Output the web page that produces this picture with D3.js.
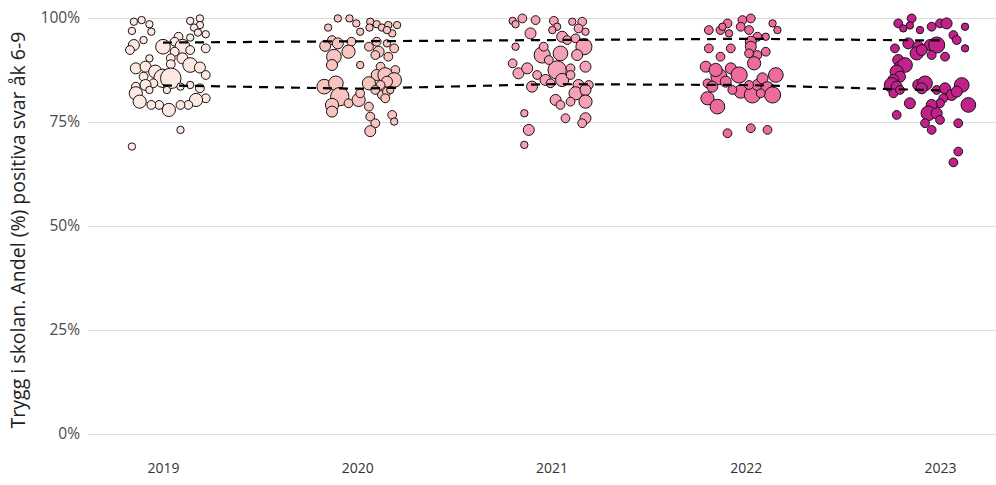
<!DOCTYPE html>
<html>
<head>
<meta charset="utf-8">
<script src="https://cdn.jsdelivr.net/npm/d3@7/dist/d3.min.js"></script>
<style>
  html, body { margin: 0; padding: 0; background: #ffffff; }
  svg { display: block; }
</style>
</head>
<body>
<svg id="chart" width="996" height="485"></svg>
<script>
// ---------------- DATA ----------------
const years = ["2019", "2020", "2021", "2022", "2023"];
const yTicks = [0, 25, 50, 75, 100];
const yTitle = "Trygg i skolan. Andel (%) positiva svar åk 6-9";

// Upper and lower quartile (%) per year (dashed lines)
const upperQuartile = [94.1, 94.4, 94.7, 95.0, 94.6];
const lowerQuartile = [83.8, 83.0, 84.1, 83.9, 82.6];

// Each school: [horizontal jitter (category units), share positive (%), number of answers]
const schools2019 = [
  [-0.15,99.1,45],[-0.11,99.5,45],[-0.07,98.5,45],[-0.16,96.9,45],[-0.06,96.7,45],[-0.10,94.7,45],[-0.15,93.5,100],[-0.17,92.3,64],
  [0.14,99.3,45],[0.19,99.9,45],[0.19,98.3,45],[0.16,97.7,45],[0.18,96.5,45],[0.22,96.1,45],[0.08,95.5,64],[0.14,95.3,45],
  [0.00,93.1,178],[0.06,94.3,64],[0.10,93.1,178],[0.06,91.9,64],[0.14,92.3,64],[0.22,92.7,64],[0.10,90.3,100],[0.04,90.3,64],[0.04,88.9,64],[-0.07,90.3,45],
  [0.14,88.7,178],[0.19,88.1,100],[0.22,86.3,64],[-0.14,87.9,100],[-0.09,88.3,100],[-0.04,87.1,144],[-0.10,85.9,64],[0.00,85.5,278],[0.04,85.5,348],
  [-0.05,84.3,64],[-0.14,83.5,64],[-0.09,83.9,100],[-0.14,81.9,144],[-0.07,82.7,45],[0.02,82.7,45],[0.09,83.5,45],[0.14,83.9,45],[0.19,83.1,64],
  [0.22,80.7,64],[0.17,80.3,144],[0.13,79.1,64],[0.09,79.1,64],[0.03,77.9,144],[-0.02,79.1,64],[-0.06,79.1,64],[-0.12,79.9,144],[0.09,73.1,45],[-0.16,69.1,45]
];
const schools2020 = [
  [-0.10,99.9,45],[-0.04,99.9,45],[-0.005,98.7,45],[0.015,96.7,45],[-0.15,97.7,45],[0.067,99.1,45],[0.063,97.7,45],[0.10,98.5,45],
  [0.127,97.7,45],[0.16,98.3,45],[0.205,98.3,45],[0.18,96.3,45],[0.153,97.1,45],[-0.165,93.3,100],[-0.13,94.7,64],[-0.10,93.9,100],
  [-0.03,94.3,64],[-0.045,91.9,144],[-0.12,90.7,178],[-0.13,88.7,100],[0.06,93.1,64],[0.10,94.3,64],[0.11,91.9,100],[0.093,91.1,64],
  [0.16,90.7,64],[0.19,92.7,64],[0.153,93.9,45],[0.015,88.7,45],[0.12,88.3,64],[0.196,87.5,64],[0.10,86.3,100],[0.144,86.3,178],
  [0.19,85.1,178],[0.153,84.7,100],[0.12,83.9,64],[0.06,84.3,144],[0.093,82.7,64],[0.127,81.5,64],[0.153,82.3,64],[0.17,82.7,45],
  [0.144,80.7,64],[-0.17,83.5,178],[-0.11,84.3,178],[-0.09,81.1,278],[-0.13,79.1,144],[-0.13,77.5,100],[0.007,80.3,144],[-0.045,79.5,64],
  [0.015,81.9,64],[0.06,78.7,64],[0.067,76.3,64],[0.093,74.7,64],[0.067,72.8,100],[0.18,76.7,64],[0.19,75.1,45]
];
const schools2021 = [
  [-0.20,99.3,45],[-0.15,99.9,64],[-0.185,98.5,45],[-0.082,99.5,64],[0.012,99.3,64],[0.029,97.9,45],[0.004,97.1,45],[0.107,99.1,45],
  [0.158,99.1,64],[0.139,97.5,64],[0.175,96.7,45],[-0.108,96.3,100],[-0.185,93.1,45],[0.055,95.5,100],[0.081,94.7,64],[0.124,95.1,64],
  [0.167,93.1,215],[0.046,91.5,178],[-0.048,91.1,215],[0.029,87.5,278],[0.132,91.1,100],[0.175,88.3,100],[0.098,87.9,64],[-0.04,93.1,64],
  [-0.014,89.9,64],[-0.20,89.1,64],[-0.17,86.7,100],[-0.125,87.9,100],[-0.074,86.3,64],[-0.031,85.1,100],[0.055,85.1,144],[0.098,86.3,64],
  [0.139,83.9,100],[0.192,83.9,64],[-0.10,83.5,100],[-0.005,84.3,64],[0.124,81.9,144],[0.175,82.7,100],[0.175,79.9,144],[0.098,79.9,64],
  [0.021,80.3,100],[0.046,79.1,64],[-0.14,77.1,45],[0.072,75.9,64],[0.175,75.9,100],[0.158,74.7,64],[-0.117,73.1,100],[-0.14,69.5,45]
];
const schools2022 = [
  [-0.19,97.1,64],[-0.13,97.1,64],[-0.094,98.7,64],[-0.12,97.9,45],[-0.017,99.5,64],[0.026,99.9,64],[-0.026,97.9,64],[0.017,97.1,64],
  [0.06,95.5,64],[0.103,95.5,45],[0.138,98.7,45],[0.163,97.1,45],[-0.086,96.3,45],[-0.19,92.7,64],[-0.077,92.7,64],[0.026,94.3,100],
  [0.026,93.1,100],[0.06,91.1,64],[0.017,91.5,64],[0.103,91.9,64],[0.043,89.1,144],[-0.13,90.7,64],[-0.206,88.3,100],[-0.138,85.9,215],
  [-0.155,87.5,144],[-0.077,87.9,100],[-0.034,86.3,215],[-0.103,84.7,100],[-0.197,84.3,64],[-0.172,83.5,100],[-0.197,80.7,144],[-0.146,78.7,178],
  [-0.026,82.3,144],[0.034,81.5,215],[0.06,83.9,100],[0.086,85.5,100],[0.112,83.1,144],[0.155,86.3,178],[0.138,81.5,215],[0.077,81.9,64],
  [0.017,83.9,64],[-0.069,82.7,64],[-0.094,72.3,64],[0.026,73.5,64],[0.112,73.1,64]
];
const schools2023 = [
  [-0.215,98.7,64],[-0.146,99.9,64],[-0.155,98.2,45],[-0.189,97.5,45],[-0.103,97.1,45],[-0.043,97.9,64],[0,98.7,64],[0.034,98.7,100],
  [0.069,95.9,64],[0.086,94.7,64],[0.129,97.9,45],[0.129,92.7,45],[-0.163,93.9,100],[-0.112,93.1,100],[-0.052,93.5,100],[-0.017,93.5,215],
  [-0.12,91.5,144],[-0.094,92.3,100],[-0.043,91.1,64],[0.026,90.7,64],[-0.232,92.7,64],[-0.215,89.9,100],[-0.206,88.3,100],[-0.18,88.7,178],
  [-0.223,87.1,144],[-0.206,85.9,100],[-0.24,85.1,100],[-0.249,83.9,178],[-0.223,83.5,100],[-0.24,81.9,64],[-0.206,82.7,64],[-0.112,83.9,100],
  [-0.077,84.3,178],[-0.094,83.1,100],[-0.155,79.5,100],[-0.017,82.7,64],[0.026,83.1,100],[0.112,83.9,178],[0.06,81.5,100],[0.017,80.7,64],
  [0.086,82.3,100],[0,79.5,64],[-0.043,79.1,100],[-0.06,77.1,178],[-0.017,77.1,100],[0,75.5,64],[-0.077,74.7,64],[-0.043,73.1,64],
  [0.146,79.1,178],[-0.223,76.7,64],[0.094,74.7,64],[0.094,67.9,64],[0.069,65.3,64]
];
const schoolsByYear = [schools2019, schools2020, schools2021, schools2022, schools2023];

// ---------------- LAYOUT / STYLE ----------------
const plotLeft = 88, plotRight = 996, plotTop = 18, plotBottom = 434;
const yearColors = ["#fde8e2", "#f9c3c0", "#f6a1b5", "#ef6b9e", "#c2218c"];

const svg = d3.select("#chart");

const x = d3.scalePoint().domain(years).range([163, 940]);
const y = d3.scaleLinear().domain([0, 100]).range([plotBottom, plotTop]);
const r = d3.scaleSqrt().domain([0, 400]).range([0, 11]);
const color = d3.scaleOrdinal().domain(years).range(yearColors);

// Y axis + gridlines
const yAxis = svg.append("g")
  .attr("transform", `translate(${plotLeft},0)`)
  .call(d3.axisLeft(y).tickValues(yTicks).tickSize(-(plotRight - plotLeft)).tickPadding(8).tickFormat(d => d + "%"));
yAxis.select(".domain").remove();
yAxis.selectAll(".tick line").attr("stroke", "#dcdcdc").attr("stroke-width", 1);
yAxis.selectAll(".tick text")
  .attr("fill", "#4a4a4a")
  .style("font-family", "'Open Sans', sans-serif")
  .style("font-size", "15.5px");

// X axis
const xAxis = svg.append("g")
  .attr("transform", `translate(0,${plotBottom})`)
  .call(d3.axisBottom(x).tickSize(0).tickPadding(29));
xAxis.select(".domain").remove();
xAxis.selectAll(".tick text")
  .attr("fill", "#333333")
  .style("font-family", "'Open Sans', sans-serif")
  .style("font-size", "14px");

// Y title
svg.append("text")
  .attr("transform", `translate(25,230) rotate(-90)`)
  .attr("text-anchor", "middle")
  .attr("fill", "#222")
  .style("font-family", "'Open Sans', sans-serif")
  .style("font-size", "19.5px")
  .text(yTitle);

// Points
const points = [];
years.forEach((yr, i) => {
  schoolsByYear[i].forEach(p => points.push({ year: yr, jitter: p[0], value: p[1], n: p[2] }));
});

svg.append("g")
  .selectAll("circle")
  .data(points)
  .join("circle")
  .attr("cx", d => x(d.year) + d.jitter * x.step())
  .attr("cy", d => y(d.value))
  .attr("r", d => r(d.n))
  .attr("fill", d => color(d.year))
  .attr("stroke", "#141414")
  .attr("stroke-width", 1);

// Quartile dashed lines
const line = d3.line().x(d => x(d.year)).y(d => y(d.v));
[upperQuartile, lowerQuartile].forEach(q => {
  svg.append("path")
    .datum(years.map((yr, i) => ({ year: yr, v: q[i] })))
    .attr("d", line)
    .attr("fill", "none")
    .attr("stroke", "#000")
    .attr("stroke-width", 2.2)
    .attr("stroke-dasharray", "9,7");
});
</script>
</body>
</html>
